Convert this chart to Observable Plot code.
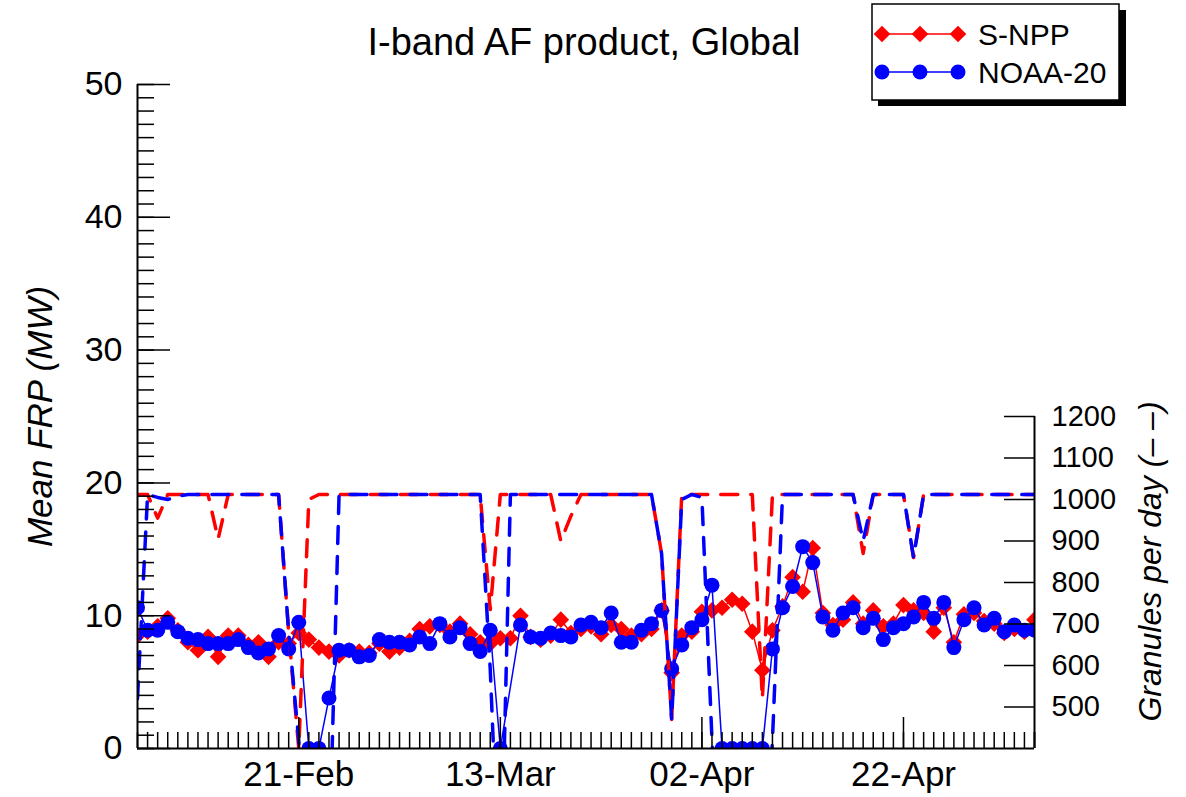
<!DOCTYPE html>
<html><head><meta charset="utf-8">
<script src="https://cdn.jsdelivr.net/npm/d3@7"></script>
<script src="https://cdn.jsdelivr.net/npm/@observablehq/plot@0.6"></script>
<style>
body{margin:0;background:#fff;}
#wrap{position:relative;width:1186px;height:797px;}
</style></head><body><div id="wrap"></div>
<script>
// ---- data ----
const startDay = "2019-02-05";
const endDay = "2019-05-05";
const titleText = "I-band AF product, Global";
const seriesNames = ["S-NPP", "NOAA-20"];
const seriesColors = ["#ff0000", "#0000ff"];
const majorDates = ["2019-02-21", "2019-03-13", "2019-04-02", "2019-04-22"];
const frpTicks = [0, 10, 20, 30, 40, 50];
const granTicks = [500, 600, 700, 800, 900, 1000, 1100, 1200];

const frpSNPP = [8.5, 8.8, 9.2, 9.8, 8.9, 8.0, 7.4, 8.4, 6.9, 8.5,
 8.5, 7.8, 8.0, 6.9, 8.0, 7.9, 8.7, 8.2, 7.6, 7.3,
 7.0, 7.4, 7.3, 7.2, 7.9, 7.3, 7.6, 8.1, 9.0, 9.2,
 9.3, 8.8, 9.4, 8.6, 8.0, 7.9, 8.3, 8.3, 10.0, 8.4,
 8.2, 8.5, 9.7, 8.7, 9.0, 9.2, 8.6, 9.3, 9.0, 8.5,
 8.6, 9.0, 10.4, 5.7, 8.5, 8.8, 10.3, 10.4, 10.6, 11.2,
 10.9, 8.8, 5.9, 8.9, 10.7, 12.9, 11.8, 15.1, 10.2, 9.3,
 9.7, 11.0, 9.4, 10.4, 9.2, 9.4, 10.8, 10.4, 10.2, 8.8,
 10.6, 8.0, 10.1, 10.2, 9.6, 9.4, 8.7, 9.0, 8.8, 9.7];

const frpNOAA20 = [10.6, 8.9, 8.9, 9.5, 8.8, 8.3, 8.2, 7.9, 7.9, 7.9,
 8.2, 7.6, 7.2, 7.5, 8.5, 7.5, 9.5, 0, 0, 3.8,
 7.4, 7.4, 6.9, 7.0, 8.2, 8.0, 8.0, 7.8, 8.4, 7.9,
 9.4, 8.4, 9.1, 7.9, 7.3, 8.9, 0, null, 9.3, 8.4,
 8.3, 8.7, 8.5, 8.4, 9.3, 9.5, 9.1, 10.2, 8.0, 8.0,
 8.9, 9.4, 10.4, 6.0, 7.8, 9.1, 9.7, 12.3, 0, 0,
 0, 0, 0, 7.5, 10.6, 12.2, 15.2, 14.0, 9.9, 8.9,
 10.2, 10.6, 9.1, 9.8, 8.2, 9.1, 9.4, 9.9, 11.0, 9.8,
 11.0, 7.6, 9.7, 10.6, 9.3, 9.8, 8.8, 9.3, 8.9, 8.9];

const granSNPP = [1012, 1012, 955, 1012, 1012, 1012, 1012, 1012, 905, 1012,
 1012, 1012, 1012, 1012, 1012, 680, 400, 1000, 1012, 1012,
 1012, 1012, 1012, 1012, 1012, 1012, 1012, 1012, 1012, 1012,
 1012, 1012, 1012, 1012, 1012, 735, 1012, 1012, 1012, 1012,
 1012, 1012, 900, 960, 1012, 1012, 1012, 1012, 1012, 1012,
 1012, 1012, 870, 470, 1012, 1012, 1012, 1012, 1012, 1012,
 1012, 1012, 520, 1012, 1012, 1012, 1012, 1012, 1012, 1012,
 1012, 1012, 870, 1012, 1012, 1012, 1012, 860, 1012, 1012,
 1012, 1012, 1012, 1012, 1012, 1012, 1012, 1012, 1012, 1012];

const granNOAA20 = [520, 1012, 1005, 1000, 1008, 1012, 1012, 1012, 1012, 1012,
 1012, 1012, 1012, 1012, 1012, 680, 420, 0, 0, 120,
 1012, 1012, 1012, 1012, 1012, 1012, 1012, 1012, 1012, 1012,
 1012, 1012, 1012, 1012, 1012, 590, 0, 1012, 1012, 1012,
 1012, 1012, 1012, 1012, 1012, 1012, 1012, 1012, 1012, 1012,
 1012, 1012, 870, 470, 1000, 1012, 1005, 420, 0, 0,
 0, 0, 0, 420, 1012, 1012, 1012, 1012, 1012, 1012,
 1012, 1012, 900, 1012, 1012, 1012, 1012, 860, 1012, 1012,
 1012, 1012, 1012, 1012, 1012, 1012, 1012, 1012, 1012, 1012];

// ---- build ----
const x0 = new Date(startDay), x1 = new Date(endDay);
const days = d3.utcDay.range(x0, d3.utcDay.offset(x1, 1));
const rows = days.map((d, i) => ({date: d, sn: frpSNPP[i], n20: frpNOAA20[i], gsn: granSNPP[i], gn20: granNOAA20[i]}));
// secondary (right) axis: granules 400..2000 over the full FRP height 0..50
const g2f = d3.scaleLinear().domain([400, 2000]).range([0, 50]);
const majors = majorDates.map(s => new Date(s));
const minorFrp = d3.range(0, 51, 1);
const FONT = "Liberation Sans, Arial, Helvetica, sans-serif";

const snRows = rows.filter(d => d.sn != null);
const n20Rows = rows.filter(d => d.n20 != null);

const plot = Plot.plot({
  width: 1186, height: 797,
  marginLeft: 137, marginRight: 152, marginTop: 84, marginBottom: 49,
  style: {fontFamily: FONT, fontSize: "34px", background: "white", color: "black", overflow: "visible"},
  x: {type: "utc", domain: [x0, x1]},
  y: {domain: [0, 50]},
  marks: [
    Plot.line(snRows, {x: "date", y: "sn", stroke: seriesColors[0], strokeWidth: 1.5, clip: true}),
    Plot.dot(snRows, {x: "date", y: "sn", fill: seriesColors[0], symbol: "diamond2", r: 7.5, clip: true}),
    Plot.line(n20Rows, {x: "date", y: "n20", stroke: seriesColors[1], strokeWidth: 1.5, clip: true}),
    Plot.dot(n20Rows, {x: "date", y: "n20", fill: seriesColors[1], r: 7.5, clip: true}),
    Plot.line(rows, {x: "date", y: d => g2f(d.gsn), stroke: seriesColors[0], strokeWidth: 3.5, strokeDasharray: "17,13", clip: true}),
    Plot.line(rows, {x: "date", y: d => g2f(d.gn20), stroke: seriesColors[1], strokeWidth: 3.5, strokeDasharray: "17,13", clip: true}),
    // axis lines
    Plot.ruleX([x0], {strokeWidth: 2}),
    Plot.ruleY([0], {strokeWidth: 2}),
    Plot.ruleX([x1], {y1: g2f(400), y2: g2f(1200), strokeWidth: 2}),
    // x axis ticks (inward)
    Plot.axisX({ticks: days.concat([x1]), tickSize: -16, fill: "none", label: null, strokeWidth: 1.5}),
    Plot.axisX({ticks: majors, tickSize: -31, fill: "none", label: null, strokeWidth: 1.5}),
    Plot.axisX({ticks: majors, tickSize: 0, tickPadding: 13, tickFormat: d3.utcFormat("%d-%b"), label: null, fontSize: 35}),
    // left axis
    Plot.axisY({anchor: "left", ticks: minorFrp, tickSize: -17, fill: "none", label: null, strokeWidth: 1.5}),
    Plot.axisY({anchor: "left", ticks: frpTicks, tickSize: -33, fill: "none", label: null, strokeWidth: 1.5}),
    Plot.axisY({anchor: "left", ticks: frpTicks, tickSize: 0, tickPadding: 15, label: null, fontSize: 34}),
    // right axis (granules)
    Plot.axisY({anchor: "right", ticks: granTicks.map(g2f), tickSize: -31, fill: "none", label: null, strokeWidth: 1.5}),
    Plot.axisY({anchor: "right", ticks: granTicks.map(g2f), tickSize: 0, tickPadding: 17, label: null, fontSize: 29,
      tickFormat: f => String(Math.round(g2f.invert(f)))}),
    // axis titles
    Plot.text(["Mean FRP (MW)"], {frameAnchor: "left", dx: -97, rotate: -90, textAnchor: "middle", lineAnchor: "middle", fontStyle: "italic", fontSize: 35}),
    Plot.text(["Granules per day (\u2013 \u2013)"], {frameAnchor: "right", dx: 116, dy: 145, rotate: -90, textAnchor: "middle", lineAnchor: "middle", fontStyle: "italic", fontSize: 32}),
    Plot.text([titleText], {frameAnchor: "top", dy: -42, dx: -2, textAnchor: "middle", lineAnchor: "middle", fontSize: 38})
  ]
});
document.getElementById("wrap").appendChild(plot);

// ---- legend ----
const svg = d3.select(plot);
const lg = svg.append("g").attr("font-family", FONT).attr("text-anchor", "start");
lg.append("rect").attr("x", 878).attr("y", 10).attr("width", 248).attr("height", 96).attr("fill", "#000");
lg.append("rect").attr("x", 872).attr("y", 4).attr("width", 247).attr("height", 96).attr("fill", "#fff").attr("stroke", "#000").attr("stroke-width", 1.5);
const entryY = [34, 72];
seriesNames.forEach((name, k) => {
  const yy = entryY[k];
  lg.append("line").attr("x1", 882).attr("x2", 958).attr("y1", yy).attr("y2", yy).attr("stroke", seriesColors[k]).attr("stroke-width", 1.5);
  [882, 920, 958].forEach(xx => {
    lg.append("path").attr("transform", `translate(${xx},${yy})`)
      .attr("d", d3.symbol(k === 0 ? d3.symbolDiamond2 : d3.symbolCircle, Math.PI * 56)())
      .attr("fill", seriesColors[k]);
  });
  lg.append("text").attr("x", 978).attr("y", yy).attr("dy", "0.36em").attr("font-size", 30).attr("text-anchor", "start").text(name);
});
</script>
</body></html>
